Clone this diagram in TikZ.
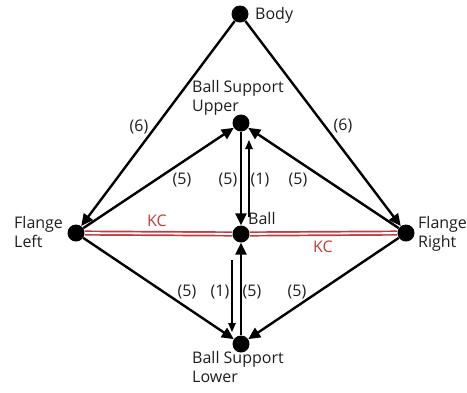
\documentclass[tikz,border=0pt]{standalone}
\usepackage{fontspec}
\setmainfont{Open Sans}
\usetikzlibrary{arrows.meta,calc}
\definecolor{kcred}{RGB}{192,60,60}
\definecolor{txt}{RGB}{30,30,30}
\begin{document}
\begin{tikzpicture}[x=1pt,y=-1pt,
  dot/.style={circle,fill=black,inner sep=0pt,minimum size=17pt},
  lbl/.style={inner sep=0pt,font=\fontsize{16}{19.5}\selectfont,text=txt},
  num/.style={inner sep=0pt,font=\fontsize{16}{18}\selectfont,text=txt},
  kclbl/.style={inner sep=0pt,font=\fontsize{16}{18}\selectfont,text=kcred},
  thickarrow/.style={line width=2.4pt,-{Triangle[length=12pt,width=11pt]}},
  thinarrow/.style={line width=1.2pt,-{Triangle[length=9pt,width=7.5pt]}},
  kcline/.style={draw=kcred,double=white,line width=1.7pt,double distance=1.8pt},
]
\useasboundingbox (0,0) rectangle (467,392);
% nodes
\node[dot] (body) at (240,14) {};
\node[dot] (bsu) at (241,123) {};
\node[dot] (ball) at (241,234) {};
\node[dot] (bsl) at (241,344) {};
\node[dot] (fl) at (76,233) {};
\node[dot] (fr) at (406,233) {};
% labels
\node[lbl,anchor=west] (tbody) at (255,15) {Body};
\node[lbl,anchor=north west,align=left] (tbsu) at (192,80) {Ball Support\\Upper};
\node[lbl,anchor=base west] (tball) at (248,224) {Ball};
\node[lbl,anchor=north west,align=left] (tbsl) at (192,351) {Ball Support\\Lower};
\node[lbl,anchor=north west,align=left] (tfl) at (14,216) {Flange\\Left};
\node[lbl,anchor=north west,align=left] (tfr) at (418,216) {Flange\\Right};
% KC lines
\draw[kcline] (fl) -- (ball);
\draw[kcline] (ball) -- (fr);
\node[kclbl] (kc1) at (157,221) {KC};
\node[kclbl] (kc2) at (323,247) {KC};
% arrows
\draw[thickarrow] (body) -- (fl);
\draw[thickarrow] (body) -- (fr);
\draw[thickarrow] (fl) -- (bsu);
\draw[thickarrow] (fr) -- (bsu);
\draw[thickarrow] (fl) -- (bsl);
\draw[thickarrow] (fr) -- (bsl);
\draw[thickarrow] (bsu) -- (ball);
\draw[thickarrow] (bsl) -- (ball);
\coordinate (u1) at (249,217);
\coordinate (u2) at (249,140);
\draw[thinarrow] (u1) -- (u2);
\coordinate (l1) at (232,260);
\coordinate (l2) at (232,332);
\draw[thinarrow] (l1) -- (l2);
% numbers
\node[num] (n6l) at (139,127) {(6)};
\node[num] (n6r) at (343,126) {(6)};
\node[num] (n5a) at (182,180) {(5)};
\node[num] (n5b) at (228,180) {(5)};
\node[num] (n1a) at (260,180) {(1)};
\node[num] (n5c) at (298,180) {(5)};
\node[num] (n5d) at (187,292) {(5)};
\node[num] (n1b) at (220,292) {(1)};
\node[num] (n5e) at (252,292) {(5)};
\node[num] (n5f) at (297,292) {(5)};
\end{tikzpicture}
\end{document}
